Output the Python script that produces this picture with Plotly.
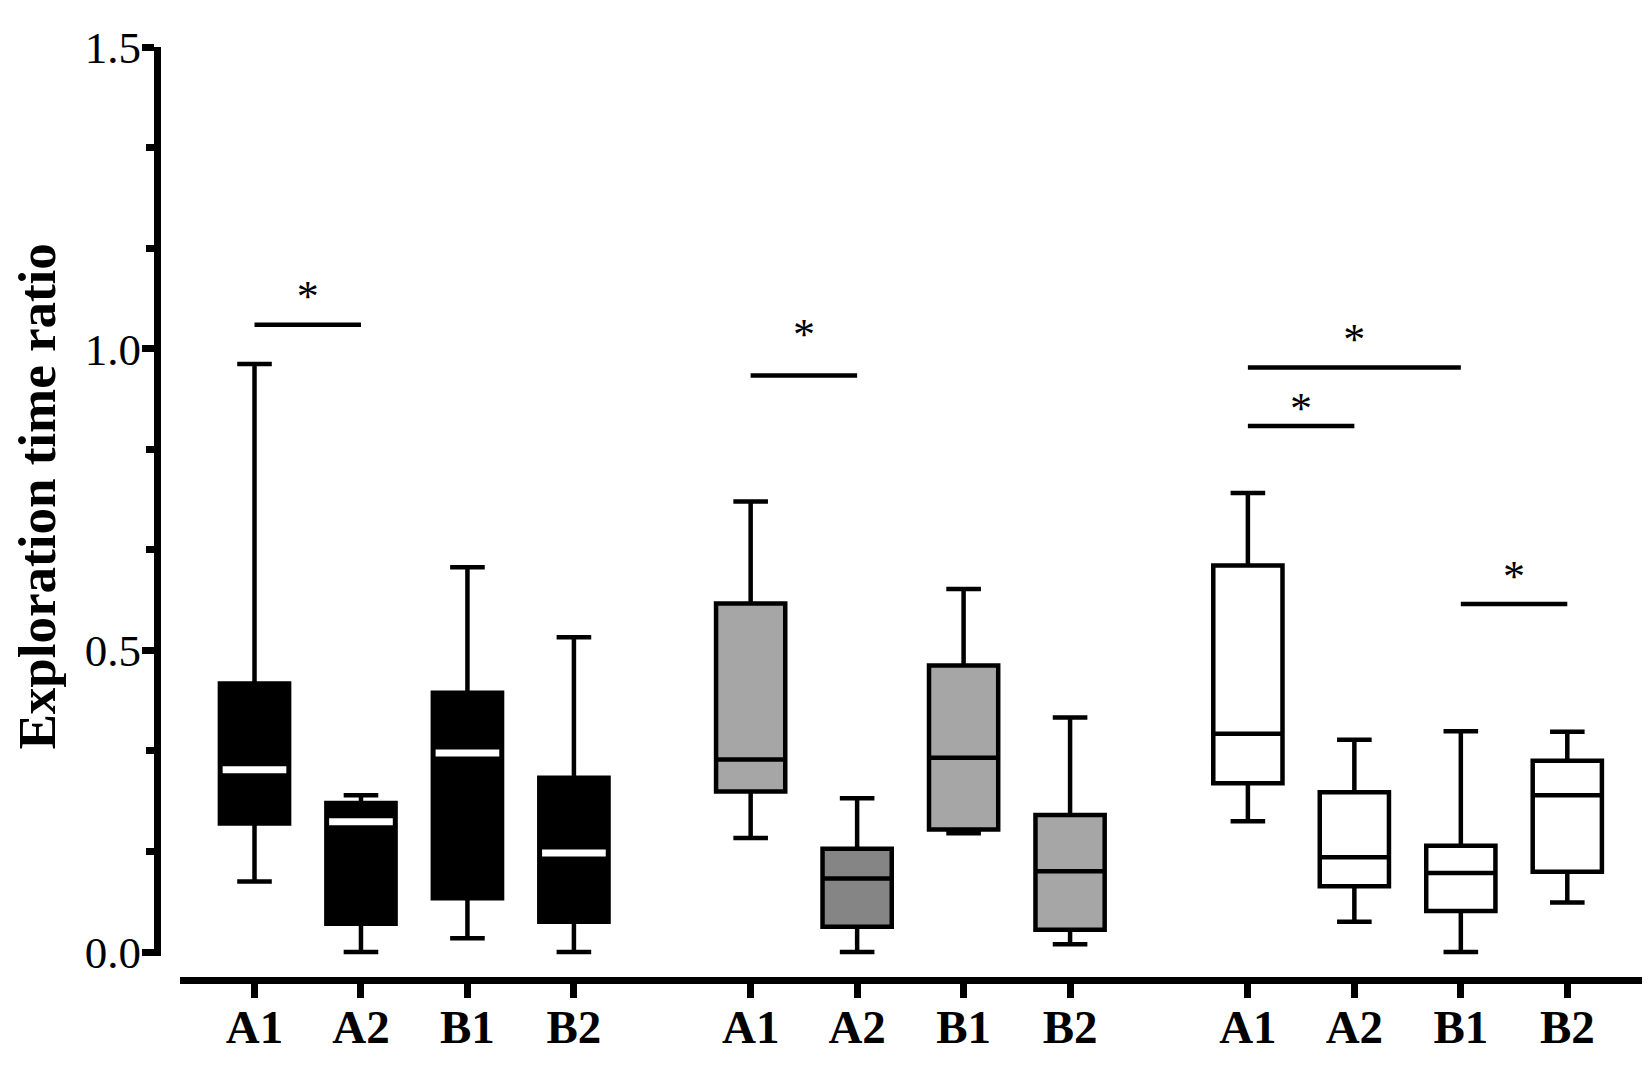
import plotly.graph_objects as go

# ---- data ----
groups = ["G1", "G2", "G3"]
categories = ["A1", "A2", "B1", "B2"]
positions = [0, 1, 2, 3, 4.66, 5.66, 6.66, 7.66, 9.33, 10.33, 11.33, 12.33]
tick_labels = categories * 3

upper = [0.975, 0.260, 0.638, 0.522, 0.747, 0.255, 0.602, 0.389, 0.761, 0.352, 0.366, 0.365]
q3 = [0.445, 0.247, 0.430, 0.289, 0.578, 0.171, 0.475, 0.227, 0.641, 0.265, 0.176, 0.317]
median = [0.302, 0.216, 0.330, 0.164, 0.319, 0.122, 0.322, 0.134, 0.362, 0.157, 0.131, 0.260]
q1 = [0.213, 0.047, 0.089, 0.050, 0.266, 0.042, 0.203, 0.037, 0.280, 0.109, 0.068, 0.133]
lower = [0.117, 0.000, 0.023, 0.000, 0.189, 0.000, 0.197, 0.013, 0.217, 0.050, 0.000, 0.082]

fill_colors = ["#000000"] * 4 + ["#a6a6a6", "#858585", "#a6a6a6", "#a6a6a6"] + ["#ffffff"] * 4
median_colors = ["#ffffff"] * 4 + ["#000000"] * 8

# significance bars (indices into positions)
sig_start = [0, 4, 8, 8, 10]
sig_end = [1, 5, 10, 9, 11]
sig_y = [1.040, 0.956, 0.969, 0.872, 0.577]
star_y = [1.081, 1.018, 1.009, 0.895, 0.616]
star_text = ["*"] * 5

BOX_W = 0.65

fig = go.Figure()

for i, p in enumerate(positions):
    fig.add_trace(go.Box(
        x=[p], q1=[q1[i]], median=[median[i]], q3=[q3[i]],
        lowerfence=[lower[i]], upperfence=[upper[i]],
        width=BOX_W, whiskerwidth=0.5,
        fillcolor=fill_colors[i],
        line=dict(color="black", width=4.5),
        boxpoints=False, showlegend=False, hoverinfo="skip",
    ))

# white medians for black boxes
mx, my = [], []
for i, p in enumerate(positions):
    if median_colors[i] == "#ffffff":
        mx += [p - BOX_W * 0.46, p + BOX_W * 0.46, None]
        my += [median[i], median[i], None]
fig.add_trace(go.Scatter(x=mx, y=my, mode="lines",
                         line=dict(color="white", width=7),
                         showlegend=False, hoverinfo="skip"))

# significance lines
sx, sy = [], []
for a, b, y in zip(sig_start, sig_end, sig_y):
    sx += [positions[a], positions[b], None]
    sy += [y, y, None]
fig.add_trace(go.Scatter(x=sx, y=sy, mode="lines",
                         line=dict(color="black", width=4.5),
                         showlegend=False, hoverinfo="skip"))

# stars
star_x = [(positions[a] + positions[b]) / 2 for a, b in zip(sig_start, sig_end)]
fig.add_trace(go.Scatter(x=star_x, y=star_y, mode="text", text=star_text,
                         textposition="middle center",
                         textfont=dict(family="Liberation Serif", size=44, color="black"),
                         showlegend=False, hoverinfo="skip"))

# page body has an 8px margin, so the figure is sized to fill the rest of the window
W, H = 1642, 1066
X_LEFT, X_RIGHT = 172.0, 1637.0      # x-axis line extent (px)
PX_A1, PX_B2 = 246.5, 1559.3         # first / last box centre (px)
ppu = (PX_B2 - PX_A1) / (positions[-1] - positions[0])
x_range = [positions[0] - (PX_A1 - X_LEFT) / ppu, positions[0] + (X_RIGHT - PX_A1) / ppu]

Y_TOP, Y_ZERO, X_AXIS_PX = 16.0, 961.5, 991.0   # px of 1.5, 0.0 and x-axis line
ypu = (Y_ZERO - Y_TOP) / 1.5
y_min = -0.006
y_bottom_px = Y_ZERO - y_min * ypu

fig.update_layout(
    width=W, height=H,
    margin=dict(l=0, r=0, t=0, b=0),
    paper_bgcolor="white", plot_bgcolor="white",
    boxmode="overlay",
    showlegend=False,
    xaxis=dict(
        domain=[X_LEFT / W, X_RIGHT / W],
        range=x_range,
        anchor="free", position=1 - X_AXIS_PX / H,
        showline=True, linecolor="black", linewidth=7,
        ticks="outside", ticklen=14, tickwidth=7, tickcolor="black",
        tickvals=positions, ticktext=tick_labels,
        tickfont=dict(family="Liberation Serif", size=47, color="black", weight="bold"),
        ticklabelstandoff=-12,
        showgrid=False, zeroline=False, fixedrange=True,
    ),
    yaxis=dict(
        domain=[1 - y_bottom_px / H, 1 - Y_TOP / H],
        range=[y_min, 1.5],
        anchor="free", position=149.0 / W,
        showline=True, linecolor="black", linewidth=7,
        ticks="outside", ticklen=12, tickwidth=7, tickcolor="black",
        tickvals=[0, 0.5, 1.0, 1.5], ticktext=["0.0", "0.5", "1.0", "1.5"],
        tickfont=dict(family="Liberation Serif", size=45, color="black"),
        ticklabeloverflow="allow", ticklabelstandoff=-8,
        minor=dict(ticks="outside", ticklen=8, tickwidth=7, tickcolor="black",
                   tickvals=[1/6, 2/6, 4/6, 5/6, 7/6, 8/6]),
        showgrid=False, zeroline=False, fixedrange=True,
    ),
    annotations=[dict(
        text="Exploration time ratio", textangle=-90,
        xref="paper", yref="paper", x=29 / W, y=1 - 485.5 / H,
        xanchor="center", yanchor="middle", showarrow=False,
        font=dict(family="Liberation Serif", size=53, color="black", weight="bold"),
    )],
)

fig.write_html("out.html")
